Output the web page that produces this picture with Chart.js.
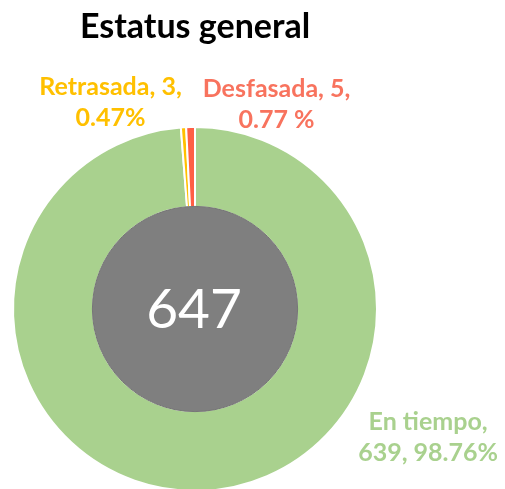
<!DOCTYPE html>
<html>
<head>
<meta charset="utf-8">
<script src="https://cdn.jsdelivr.net/npm/chart.js@4/dist/chart.umd.min.js"></script>
<style>
  html, body { margin: 0; padding: 0; background: #ffffff; width: 505px; height: 489px; overflow: hidden; }
  #wrap { width: 505px; height: 500px; }
</style>
</head>
<body>
<div id="wrap"><canvas id="c" width="505" height="500"></canvas></div>
<script>
const categories = ["En tiempo", "Retrasada", "Desfasada"];
const values = [639, 3, 5];
const percentLabels = ["98.76%", "0.47%", "0.77 %"];
const totalLabel = "647";
const titleText = "Estatus general";

const sliceColors = ["#A9D18E", "#FFC000", "#FF5F45"];
const labelColors = ["#A9D18E", "#FFC000", "#F8735E"];
const firstLineParts = [1, 2, 2];
// label offsets from the slice's outer mid-point (px)
const labelOffsets = [[226, -53], [-73, -25], [86, -23]];

const LABEL_FONT = "bold 25px Lato, 'Open Sans', sans-serif";
const CENTER_FONT = "55px Lato, 'Open Sans', sans-serif";

const labelPlugin = {
  id: 'decor',
  afterDatasetsDraw(chart) {
    const ctx = chart.ctx;
    const meta = chart.getDatasetMeta(0);
    const arc0 = meta.data[0];
    const p0 = arc0.getProps(['x', 'y', 'innerRadius'], true);
    // center disc
    ctx.save();
    ctx.beginPath();
    ctx.arc(p0.x, p0.y, p0.innerRadius + 0.6, 0, Math.PI * 2);
    ctx.fillStyle = "#7F7F7F";
    ctx.fill();
    ctx.lineWidth = 1;
    ctx.strokeStyle = "#767676";
    ctx.stroke();
    ctx.fillStyle = "#FFFFFF";
    ctx.font = CENTER_FONT;
    ctx.textAlign = "center";
    ctx.textBaseline = "middle";
    ctx.fillText(totalLabel, p0.x - 1, p0.y + 1);
    ctx.restore();

    // data labels
    ctx.save();
    ctx.font = LABEL_FONT;
    ctx.textAlign = "center";
    ctx.textBaseline = "middle";
    meta.data.forEach((arc, i) => {
      const p = arc.getProps(['x', 'y', 'startAngle', 'endAngle', 'outerRadius'], true);
      const mid = (p.startAngle + p.endAngle) / 2;
      const ax = p.x + Math.cos(mid) * p.outerRadius + labelOffsets[i][0];
      const ay = p.y + Math.sin(mid) * p.outerRadius + labelOffsets[i][1];
      const parts = [categories[i], String(values[i]), percentLabels[i]];
      const n = firstLineParts[i];
      const lines = [parts.slice(0, n).join(", ") + ",", parts.slice(n).join(", ")];
      ctx.fillStyle = labelColors[i];
      const lh = 31;
      lines.forEach((t, k) => {
        ctx.fillText(t, ax, ay + (k - (lines.length - 1) / 2) * lh);
      });
    });
    ctx.restore();
  }
};

new Chart(document.getElementById('c'), {
  type: 'doughnut',
  data: {
    labels: categories,
    datasets: [{
      data: values,
      backgroundColor: sliceColors,
      borderColor: "#FFFFFF",
      borderWidth: 2,
      hoverOffset: 0
    }]
  },
  options: {
    responsive: false,
    animation: false,
    cutout: 102,
    rotation: 0,
    layout: { padding: { left: 12, right: 127, top: 0, bottom: 8 } },
    plugins: {
      legend: { display: false },
      tooltip: { enabled: false },
      title: {
        display: true,
        text: titleText,
        color: "#000000",
        font: { family: "Lato, 'Open Sans', sans-serif", size: 34, weight: 'bold', lineHeight: 1.2 },
        padding: { top: 7, bottom: 78.2 }
      }
    }
  },
  plugins: [labelPlugin]
});
</script>
</body>
</html>
